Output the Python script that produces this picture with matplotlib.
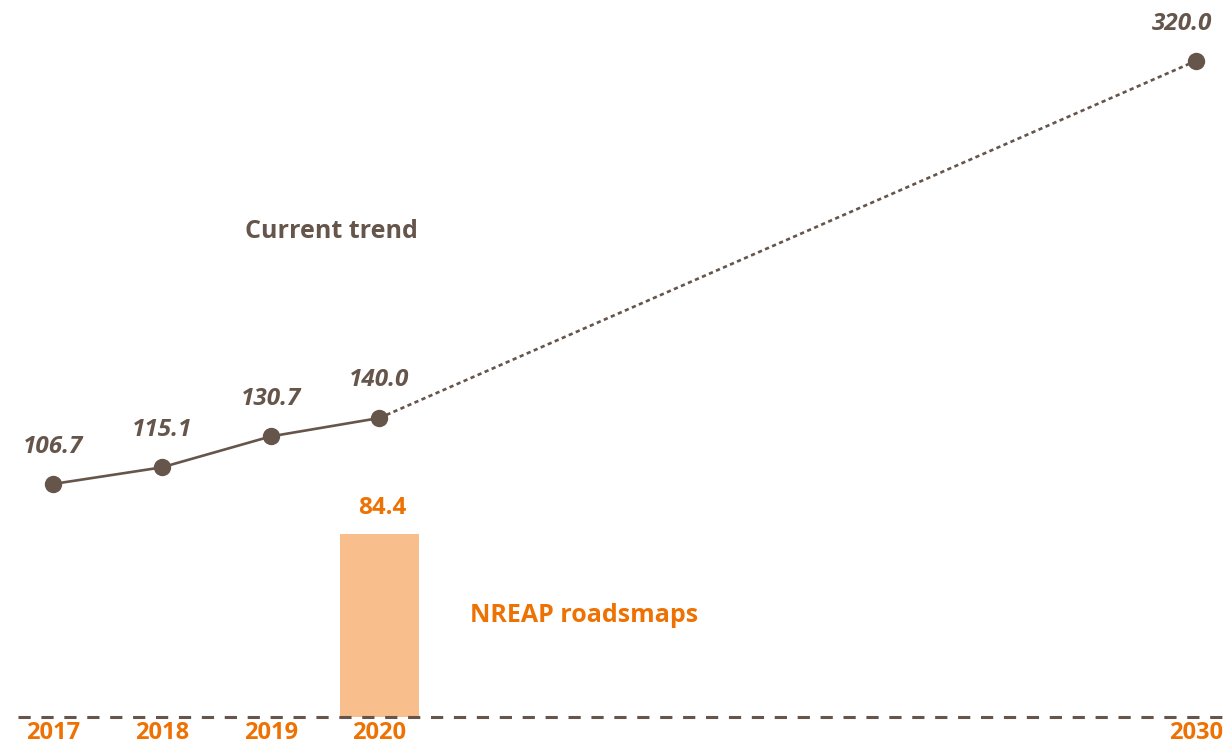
import numpy as np
import matplotlib

matplotlib.use("Agg")
import matplotlib.pyplot as plt

# data
YEARS = [2017, 2018, 2019, 2020, 2030]
TREND = [106.7, 115.1, 130.7, 140.0, 320.0]
BAR_YEARS = [2020]
NREAP = [84.4]

BROWN = "#65554a"
ORANGE = "#ee7203"
BAR_COLOR = "#f8be8b"
FONT = ["Open Sans", "DejaVu Sans"]


# piecewise year axis: 2017-2021 one unit per year, then compressed to 2030
def fwd(y):
    y = np.asarray(y, dtype=float)
    return np.where(y <= 2021, y - 2017, 4 + (y - 2021) * (6.5 / 9))


def inv(x):
    x = np.asarray(x, dtype=float)
    return np.where(x <= 4, x + 2017, 2021 + (x - 4) * (9 / 6.5))


fig = plt.figure(figsize=(12.27, 7.5), dpi=100)
ax = fig.add_axes([0, 0.044, 1, 0.956])
ax.set_xscale("function", functions=(fwd, inv))
ax.set_xlim(2016.513, 2030.4)
ax.set_ylim(0, 330.7)

# bar (own scale)
ax.bar(BAR_YEARS, NREAP, width=0.726, color=BAR_COLOR, zorder=2, align="center")
for x, v in zip(BAR_YEARS, NREAP):
    ax.annotate(f"{v:.1f}", (x, v), xytext=(2, 19), textcoords="offset points",
                ha="center", va="center", color=ORANGE, fontsize=17.5,
                fontweight="bold", family=FONT)
ax.axhline(0, xmin=0.015, xmax=1, color=BROWN, lw=2.2,
           linestyle=(0, (4, 3.5)), zorder=3, clip_on=False)

ax.set_xticks(YEARS)
ax.set_xticklabels([str(y) for y in YEARS])
ax.tick_params(axis="x", length=0, pad=3, labelsize=17, labelcolor=ORANGE)
for lab in ax.get_xticklabels():
    lab.set_fontweight("bold")
    lab.set_family(FONT)
ax.set_yticks([])
for s in ax.spines.values():
    s.set_visible(False)

# trend line (own scale)
ax2 = ax.twinx()
ax2.set_ylim(-10.8, 350.8)
ax2.plot(YEARS[:4], TREND[:4], color=BROWN, lw=1.9, zorder=4)
ax2.plot(YEARS[3:], TREND[3:], color=BROWN, lw=1.9,
         linestyle=(0, (1.6, 1.3)), zorder=4)
ax2.plot(YEARS, TREND, "o", color=BROWN, ms=11.5, zorder=5)
for i, (x, v) in enumerate(zip(YEARS, TREND)):
    dx = -10 if i == len(YEARS) - 1 else 0
    ax2.annotate(f"{v:.1f}", (x, v), xytext=(dx, 27), textcoords="offset points",
                 ha="center", va="center", color=BROWN, fontsize=17.5,
                 fontweight="bold", fontstyle="italic", family=FONT)
ax2.set_yticks([])
for s in ax2.spines.values():
    s.set_visible(False)

fig.text(245 / 1227, 1 - 232 / 750, "Current trend", ha="left", va="center",
         color=BROWN, fontsize=18, fontweight="bold", family=FONT)
fig.text(470 / 1227, 1 - 616 / 750, "NREAP roadsmaps", ha="left", va="center",
         color=ORANGE, fontsize=18, fontweight="bold", family=FONT)

fig.savefig("out.png", dpi=100)
